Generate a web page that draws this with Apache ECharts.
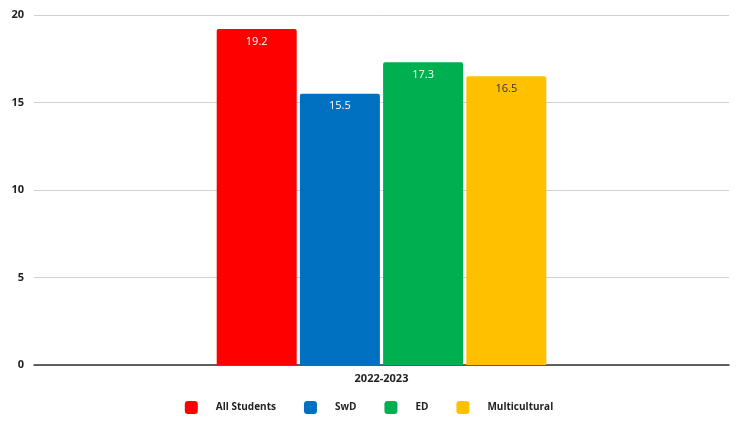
<!DOCTYPE html>
<html>
<head>
<meta charset="utf-8">
<script src="https://cdn.jsdelivr.net/npm/echarts@6/dist/echarts.min.js"></script>
<style>
  html, body { margin: 0; padding: 0; background: #fff; }
  #chart { width: 738px; height: 423px; }
</style>
</head>
<body>
<div id="chart"></div>
<script>
// Average scores by student group, school year 2022-2023
const categories = ['2022-2023'];
const seriesNames = ['All Students', 'SwD', 'ED', 'Multicultural'];
const allStudents = [19.2];
const swd = [15.5];
const ed = [17.3];
const multicultural = [16.5];
const yTicks = [0, 5, 10, 15, 20];

const colors = ['#ff0000', '#0070c0', '#00b050', '#ffc000'];
const labelColors = ['#ffffff', '#ffffff', '#ffffff', '#333333'];
const values = [allStudents, swd, ed, multicultural];

const chart = echarts.init(document.getElementById('chart'));

const series = seriesNames.map((name, i) => ({
  name: name,
  type: 'bar',
  data: values[i],
  barWidth: 80,
  barGap: '4%',
  itemStyle: { color: colors[i], borderRadius: [2, 2, 0, 0] },
  label: {
    show: true,
    position: 'insideTop',
    distance: 7,
    color: labelColors[i],
    fontFamily: 'Open Sans',
    fontSize: 11,
    formatter: p => p.value.toFixed(1)
  }
}));

chart.setOption({
  animation: false,
  color: colors,
  grid: { left: 34, right: 9, top: 15, bottom: 58 },
  xAxis: {
    type: 'category',
    data: categories,
    axisLine: { lineStyle: { color: '#333', width: 1.5 } },
    axisTick: { show: false },
    axisLabel: { color: '#222', fontFamily: 'Open Sans', fontSize: 11, fontWeight: 'bold', margin: 8 }
  },
  yAxis: {
    type: 'value',
    min: yTicks[0],
    max: yTicks[yTicks.length - 1],
    interval: 5,
    axisLine: { show: false },
    axisTick: { show: false },
    splitLine: { lineStyle: { color: '#d0d0d0', width: 1 } },
    axisLabel: { color: '#222', fontFamily: 'Open Sans', fontSize: 11, fontWeight: 'bold', margin: 10 }
  },
  legend: {
    bottom: 4,
    left: 'center',
    icon: 'roundRect',
    itemWidth: 13,
    itemHeight: 13,
    itemGap: 28,
    textStyle: { color: '#222', fontFamily: 'Open Sans', fontSize: 10, fontWeight: 'bold', padding: [0, 0, 0, 13] },
    data: seriesNames
  },
  series: series
});
</script>
</body>
</html>
